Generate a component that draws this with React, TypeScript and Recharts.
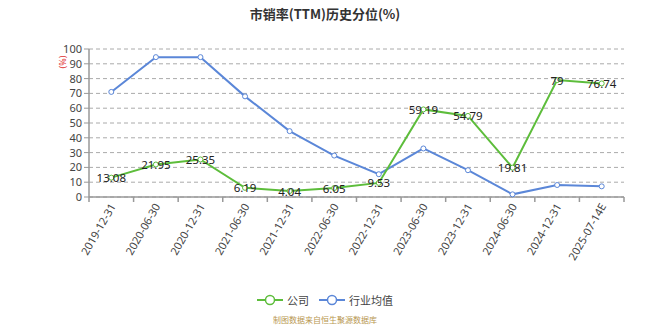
import React from 'react';
import { LineChart, Line, XAxis, YAxis, CartesianGrid, LabelList } from 'recharts';

const categories = ['2019-12-31', '2020-06-30', '2020-12-31', '2021-06-30', '2021-12-31', '2022-06-30', '2022-12-31', '2023-06-30', '2023-12-31', '2024-06-30', '2024-12-31', '2025-07-14E'];
const companyValues = [13.08, 21.95, 25.35, 6.19, 4.04, 6.05, 9.53, 59.19, 54.79, 19.81, 79, 76.74];
const industryValues = [71, 94.5, 94.5, 68, 44.5, 28, 15.4, 32.8, 18.1, 1.8, 8.1, 7.2];
const yTicks = [0, 10, 20, 30, 40, 50, 60, 70, 80, 90, 100];

const title = '市销率(TTM)历史分位(%)';
const companyName = '公司';
const industryName = '行业均值';
const sourceText = '制图数据来自恒生聚源数据库';

const GREEN = '#5dbd3b';
const BLUE = '#5b87d8';
const FONT = '"Noto Sans", "Noto Sans CJK SC", sans-serif';

const data = categories.map((c, i) => ({ name: c, company: companyValues[i], industry: industryValues[i] }));

const CHART_W = 650;
const CHART_H = 325;
const MARGIN = { top: 49, right: 26, bottom: 68, left: 0 };
const Y_W = 89;
const plotW = CHART_W - MARGIN.left - MARGIN.right - Y_W;
const band = plotW / categories.length;

const XTick = (props: any) => {
  const { x, y, payload, index } = props;
  const isLast = index === categories.length - 1;
  return (
    <g>
      <line x1={x - band / 2} y1={y - 8} x2={x - band / 2} y2={y - 3} stroke="#999" strokeWidth={1.5} />
      {isLast && <line x1={x + band / 2} y1={y - 8} x2={x + band / 2} y2={y - 3} stroke="#999" strokeWidth={1.5} />}
      <text
        transform={`translate(${x + 1},${y - 1}) rotate(-60)`}
        textAnchor="end"
        dominantBaseline="central"
        fontSize={11}
        fill="#444"
        fontFamily={FONT}
      >
        {payload.value}
      </text>
    </g>
  );
};

const PointLabel = (props: any) => {
  const { x, y, value } = props;
  return (
    <text x={x} y={y} textAnchor="middle" dominantBaseline="central" fontSize={11.5} fill="#222" fontFamily={FONT}>
      {value}
    </text>
  );
};

const LegendIcon = ({ color }: { color: string }) => (
  <svg width={26} height={12} style={{ verticalAlign: 'middle' }}>
    <line x1={0} y1={6} x2={26} y2={6} stroke={color} strokeWidth={2} />
    <circle cx={13} cy={6} r={4.5} fill="#fff" stroke={color} strokeWidth={1.5} />
  </svg>
);

export default function App() {
  return (
    <div style={{ position: 'absolute', left: 0, top: 0, width: CHART_W, height: CHART_H, background: '#fff' }}>
      <div
        style={{
          position: 'absolute', left: 0, top: 4, width: CHART_W, textAlign: 'center',
          fontFamily: '"Noto Sans CJK SC", sans-serif', fontWeight: 'bold', fontSize: 13, color: '#333', lineHeight: '20px',
        }}
      >
        {title}
      </div>
      <div
        style={{
          position: 'absolute', left: 56, top: 55, width: 14, height: 14, transform: 'rotate(-90deg)',
          fontFamily: FONT, fontSize: 9, color: '#e03030', textAlign: 'center', lineHeight: '14px',
        }}
      >
        (%)
      </div>
      <LineChart width={CHART_W} height={CHART_H} data={data} margin={MARGIN}>
        <CartesianGrid vertical={false} stroke="#aaa" strokeDasharray="4 3" />
        <XAxis
          dataKey="name"
          interval={0}
          tickLine={false}
          padding={{ left: band / 2, right: band / 2 }}
          axisLine={{ stroke: '#999', strokeWidth: 1.5 }}
          tick={<XTick />}
          height={60}
        />
        <YAxis
          width={Y_W}
          domain={[0, 100]}
          ticks={yTicks}
          interval={0}
          axisLine={{ stroke: '#999', strokeWidth: 1.5 }}
          tickLine={{ stroke: '#999' }}
          tickSize={5}
          tick={{ fontSize: 11, fill: '#444', fontFamily: FONT }}
        />
        <Line
          type="linear"
          dataKey="industry"
          stroke={BLUE}
          strokeWidth={2}
          dot={{ r: 2.5, fill: '#fff', stroke: BLUE, strokeWidth: 1 }}
          isAnimationActive={false}
        />
        <Line
          type="linear"
          dataKey="company"
          stroke={GREEN}
          strokeWidth={2}
          dot={{ r: 2.5, fill: '#fff', stroke: GREEN, strokeWidth: 1 }}
          isAnimationActive={false}
        >
          <LabelList dataKey="company" content={<PointLabel />} />
        </Line>
      </LineChart>
      <div
        style={{
          position: 'absolute', left: 0, top: 290, width: CHART_W, textAlign: 'center',
          fontFamily: '"Noto Sans CJK SC", sans-serif', fontSize: 11, color: '#444', lineHeight: '16px',
        }}
      >
        <LegendIcon color={GREEN} />
        <span style={{ marginLeft: 4, marginRight: 10, verticalAlign: 'middle' }}>{companyName}</span>
        <LegendIcon color={BLUE} />
        <span style={{ marginLeft: 4, verticalAlign: 'middle' }}>{industryName}</span>
      </div>
      <div
        style={{
          position: 'absolute', left: 0, top: 314, width: CHART_W, textAlign: 'center',
          fontFamily: '"Noto Sans CJK SC", sans-serif', fontSize: 8, color: '#b8974f', lineHeight: '12px',
        }}
      >
        {sourceText}
      </div>
    </div>
  );
}
